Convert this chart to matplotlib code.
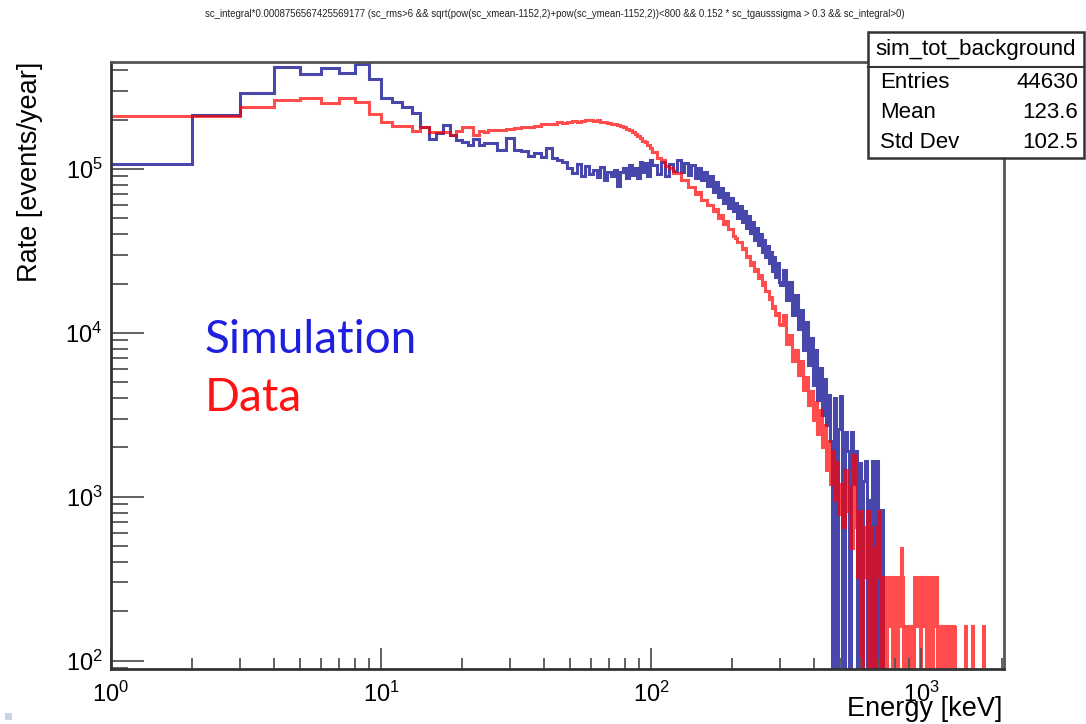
import numpy as np
import matplotlib
matplotlib.use("Agg")
import matplotlib.pyplot as plt
from matplotlib.ticker import LogLocator, NullFormatter
from matplotlib.patches import Rectangle
from matplotlib.lines import Line2D

plt.rcParams['font.family'] = ['Liberation Sans', 'DejaVu Sans']

# bin edges [keV]: fine bins at low energy, wider ones where the spectrum is noisy
edges = np.concatenate([np.arange(1, 26, 1),      # 1 keV   : 1 .. 25
                        np.arange(27, 102, 2),    # 2 keV   : 25 .. 101
                        np.arange(105, 302, 4),   # 4 keV   : 101 .. 301
                        np.arange(309, 502, 8),   # 8 keV   : 301 .. 501
                        np.arange(511, 1802, 10)])  # 10 keV : 501 .. 1801

# simulation, rate [events/year]
sim_a = [1.07e5, 2.13e5, 2.92e5, 4.16e5, 3.78e5, 4.13e5, 3.87e5, 4.35e5, 3.53e5, 2.70e5,
         2.57e5, 2.40e5, 2.19e5, 1.81e5, 1.52e5, 1.65e5, 1.85e5, 1.61e5, 1.50e5, 1.45e5,
         1.39e5, 1.52e5, 1.40e5, 1.43e5]
sim_b = [1.44e5, 1.31e5, 1.54e5, 1.31e5, 1.29e5, 1.20e5, 1.25e5, 1.18e5, 1.34e5, 1.17e5,
         1.13e5, 1.10e5, 1.01e5, 9.5e4, 1.07e5, 9.1e4, 1.04e5, 9.3e4, 9.9e4, 8.9e4,
         1.03e5, 8.6e4, 9.6e4, 9.1e4, 9.9e4, 7.9e4, 9.6e4, 1.01e5, 8.8e4, 1.06e5,
         9.2e4, 1.01e5, 8.8e4, 1.10e5, 9.6e4, 1.09e5, 9.1e4, 1.13e5]
sim_c = [1.06e5, 9.3e4, 1.10e5, 9.1e4, 1.07e5, 9.7e4, 1.13e5, 9.6e4, 1.09e5, 9.2e4,
         1.06e5, 8.8e4, 1.01e5, 8.6e4, 9.6e4, 7.9e4, 9.1e4, 7.2e4, 8.3e4, 6.75e4,
         7.7e4, 6.2e4, 7.1e4, 5.8e4, 6.65e4, 5.5e4, 6.2e4, 5.0e4, 5.9e4, 4.75e4,
         5.5e4, 4.35e4, 5.15e4, 4.05e4, 4.75e4, 3.7e4, 4.35e4, 3.45e4, 4.0e4, 3.1e4,
         3.7e4, 2.9e4, 3.4e4, 2.65e4, 3.1e4, 2.4e4, 2.9e4, 2.2e4, 2.65e4, 2.05e4]
sim_d = [1.96e4, 2.42e4, 1.59e4, 2.05e4, 1.29e4, 1.7e4, 1.05e4, 1.38e4, 7.9e3, 1.17e4,
         6.4e3, 9.3e3, 4.8e3, 7.9e3, 3.9e3, 6.1e3, 3.15e3, 5.2e3, 2.75e3, 4.2e3,
         2.2e3, 0, 4.0e3, 0, 2.6e3]
sim_e = [4100, 0, 2500, 1900, 0, 2500, 1200, 1900, 0, 1600,
         0, 1250, 1660, 0, 950, 0, 1660, 0, 1660, 0,
         0, 830, 0]

# data, rate [events/year]
dat_a = [2.10e5, 2.10e5, 2.40e5, 2.64e5, 2.70e5, 2.52e5, 2.70e5, 2.55e5, 2.16e5, 1.92e5,
         1.84e5, 1.84e5, 1.71e5, 1.81e5, 1.67e5, 1.67e5, 1.67e5, 1.61e5, 1.71e5, 1.81e5,
         1.81e5, 1.61e5, 1.71e5, 1.69e5]
dat_b = [1.72e5, 1.73e5, 1.75e5, 1.77e5, 1.79e5, 1.80e5, 1.83e5, 1.87e5, 1.89e5, 1.88e5,
         1.92e5, 1.91e5, 1.93e5, 1.95e5, 1.92e5, 1.96e5, 1.98e5, 1.99e5, 1.96e5, 1.98e5,
         1.93e5, 1.92e5, 1.91e5, 1.89e5, 1.88e5, 1.85e5, 1.83e5, 1.79e5, 1.75e5, 1.73e5,
         1.68e5, 1.63e5, 1.59e5, 1.54e5, 1.49e5, 1.45e5, 1.40e5, 1.34e5]
dat_c = [1.27e5, 1.16e5, 1.14e5, 1.04e5, 1.02e5, 9.4e4, 9.5e4, 8.5e4, 8.6e4, 7.8e4,
         7.8e4, 7.0e4, 7.2e4, 6.5e4, 6.5e4, 6.0e4, 6.0e4, 5.5e4, 5.7e4, 5.0e4,
         5.2e4, 4.6e4, 4.8e4, 4.3e4, 4.3e4, 3.9e4, 3.8e4, 3.6e4, 3.6e4, 3.25e4,
         3.3e4, 2.9e4, 2.95e4, 2.6e4, 2.7e4, 2.4e4, 2.45e4, 2.15e4, 2.25e4, 1.95e4,
         2.05e4, 1.8e4, 1.8e4, 1.62e4, 1.65e4, 1.42e4, 1.45e4, 1.28e4, 1.32e4, 1.13e4]
dat_d = [1.12e4, 1.28e4, 8.5e3, 9.7e3, 6.7e3, 7.9e3, 5.5e3, 6.7e3, 4.5e3, 5.4e3,
         3.65e3, 4.4e3, 2.95e3, 3.8e3, 2.4e3, 3.4e3, 2.0e3, 2.75e3, 1.46e3, 2.2e3,
         1.19e3, 1.9e3, 960, 1.64e3, 780]
dat_e = [1200, 652, 1460, 815, 1140, 489, 1790, 652, 326, 815,
         0, 652, 326, 815, 0, 652, 489, 0, 652, 815,
         326, 0, 326, 326, 0, 326, 163, 326, 0, 326,
         163, 0, 326, 163, 489, 326, 0, 163, 0, 163,
         163, 0, 163, 0, 326, 326, 163, 326, 326, 0,
         163, 326, 163, 326, 0, 326, 163, 0, 163, 326,
         0, 163, 163, 326, 326, 0, 163, 0, 163, 0,
         163, 163, 0, 163, 0, 0, 163, 0, 163, 0,
         0, 163, 0, 163, 0, 0, 0, 0, 0, 0,
         0, 0, 0, 0, 0, 0, 163, 0, 0, 0,
         0, 0, 0, 0, 0, 163, 0, 0, 0, 0,
         0, 0, 0, 0, 0, 0, 0, 0, 0, 0,
         163, 0]

sim = np.array(sim_a + sim_b + sim_c + sim_d + sim_e, dtype=float)
dat = np.array(dat_a + dat_b + dat_c + dat_d + dat_e, dtype=float)

title = ("sc_integral*0.0008756567425569177 (sc_rms>6 && sqrt(pow(sc_xmean-1152,2)"
         "+pow(sc_ymean-1152,2))<800 && 0.152 * sc_tgausssigma > 0.3 && sc_integral>0)")

fig = plt.figure(figsize=(10.86, 7.24), dpi=100)
ax = fig.add_axes([111/1086, 1 - 669/724, (1004-111)/1086, (669-62)/724])

# empty bins are drawn down to the bottom of the frame, as ROOT does
ax.stairs(np.where(sim > 0, sim, 1.0), edges[:len(sim)+1], baseline=None,
          color=(0.0, 0.0, 0.55), alpha=0.72, lw=2.2)
ax.stairs(np.where(dat > 0, dat, 1.0), edges[:len(dat)+1], baseline=None,
          color=(1.0, 0.0, 0.0), alpha=0.7, lw=2.2)

ax.set_xscale('log')
ax.set_yscale('log')
ax.set_xlim(1, 2030)
ax.set_ylim(89, 4.49e5)

ax.xaxis.set_major_locator(LogLocator(base=10, numticks=10))
ax.xaxis.set_minor_locator(LogLocator(base=10, subs=np.arange(2, 10), numticks=20))
ax.yaxis.set_major_locator(LogLocator(base=10, numticks=10))
ax.yaxis.set_minor_locator(LogLocator(base=10, subs=np.arange(2, 10), numticks=20))
ax.xaxis.set_minor_formatter(NullFormatter())
ax.yaxis.set_minor_formatter(NullFormatter())

ax.tick_params(axis='x', which='major', direction='in', length=15, width=1.3,
               color='#555555', labelsize=17, pad=9, top=False)
ax.tick_params(axis='x', which='minor', direction='in', length=8, width=1.3,
               color='#555555', top=False)
ax.tick_params(axis='y', which='major', direction='in', length=24, width=1.3,
               color='#555555', labelsize=17, pad=6, right=False)
ax.tick_params(axis='y', which='minor', direction='in', length=12, width=1.3,
               color='#555555', right=False)
for s in ax.spines.values():
    s.set_color('#555555')
    s.set_linewidth(2)
ax.spines['left'].set_color('#333333')
ax.spines['bottom'].set_color('#333333')

fig.text(555/1086, 1 - 14/724, title, ha='center', va='center', fontsize=6.9, color='#222222')
fig.text(30/1086, 1 - 62/724, 'Rate [events/year]', rotation=90, ha='center', va='top',
         fontsize=19.5)
fig.text(1002/1086, 1 - 709/724, 'Energy [keV]', ha='right', va='center', fontsize=19.5)

# legend-like labels
fig.text(205/1086, 1 - 340/724, 'Simulation', ha='left', va='center', fontsize=33,
         color='#1f1fe0', family=['Lato', 'DejaVu Sans'])
fig.text(205/1086, 1 - 398/724, 'Data', ha='left', va='center', fontsize=33,
         color='#ff1414', family=['Lato', 'DejaVu Sans'])

# statistics box
bx0, bx1, by0, by1 = 868/1086, 1084/1086, 1 - 158/724, 1 - 32/724
fig.patches.append(Rectangle((bx0, by0), bx1 - bx0, by1 - by0, transform=fig.transFigure,
                             facecolor='white', edgecolor='#333333', lw=1.8, zorder=5))
fig.lines.append(Line2D([bx0, bx1], [1 - 67/724, 1 - 67/724], transform=fig.transFigure,
                        color='#333333', lw=1.5, zorder=6))
fig.text(976/1086, 1 - 50/724, 'sim_tot_background', ha='center', va='center',
         fontsize=16, zorder=7)
stats = [('Entries', '44630'), ('Mean', '123.6'), ('Std Dev', '102.5')]
for i, (k, v) in enumerate(stats):
    yy = 1 - (81 + 30*i)/724
    fig.text(880/1086, yy - 2/724, k, ha='left', va='center', fontsize=16, zorder=7)
    fig.text(1078/1086, yy - 2/724, v, ha='right', va='center', fontsize=16, zorder=7)

fig.patches.append(Rectangle((5/1086, 1 - 720/724), 7/1086, 7/724, transform=fig.transFigure,
                             facecolor='#c8d4e4', edgecolor='none'))

fig.savefig('out.png', dpi=100)
